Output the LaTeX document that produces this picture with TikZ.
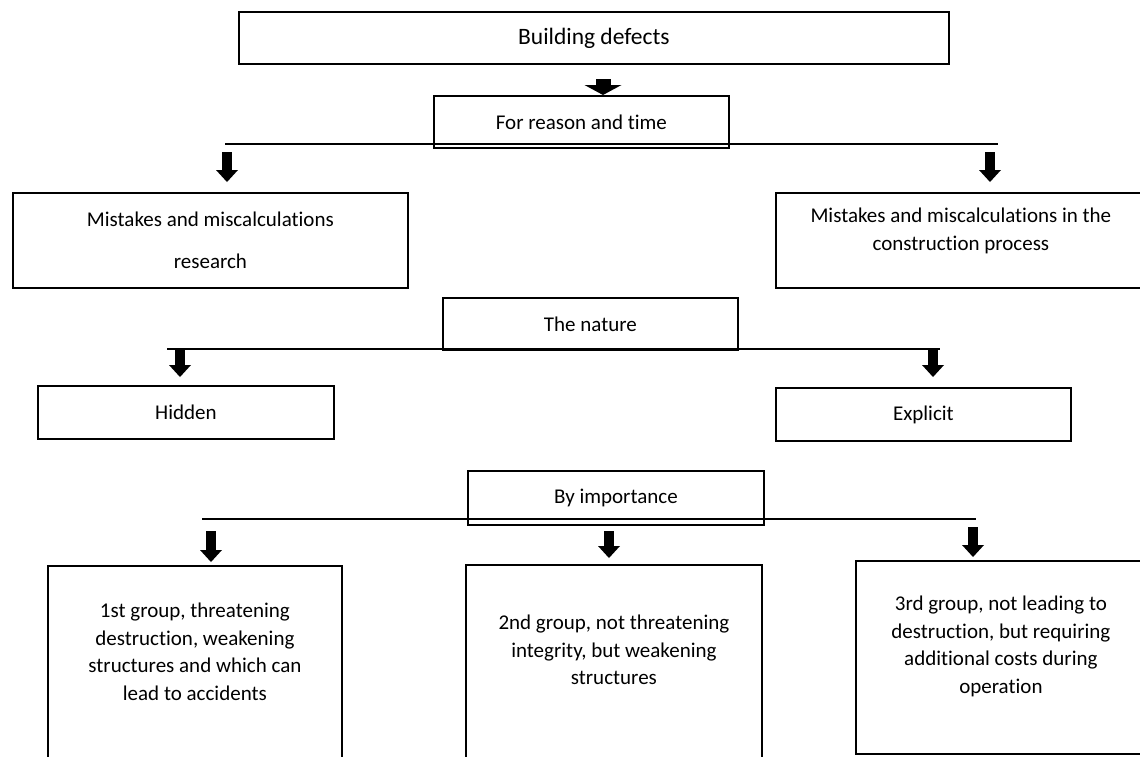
\documentclass[tikz,border=0pt]{standalone}
\usepackage{fontspec}
\setmainfont{Carlito}[Ligatures=NoCommon]
\usetikzlibrary{arrows.meta, positioning}
\tikzstyle{box} = [draw, line width=1.8pt, rectangle, inner sep=0pt, anchor=north west, align=center, font=\fontsize{21}{27.5}\selectfont]
\tikzstyle{boxtext} = [inner sep=0pt, align=center, font=\fontsize{21}{27.5}\selectfont]
\tikzstyle{bar} = [line width=2pt]
\tikzstyle{fatarrow} = [line width=10pt, -{Triangle[width=22pt, length=12pt, line width=0pt]}]
\tikzstyle{bigarrow} = [line width=15pt, -{Triangle[width=37pt, length=10pt, line width=0pt]}]

\begin{document}
\begin{tikzpicture}[x=1pt, y=-1pt]
    \useasboundingbox (0,0) rectangle (1140,756);
    \node[box, minimum width=710pt, minimum height=52pt, font=\fontsize{23.5}{28}\selectfont] (defects) at (238,11) {Building defects};
    \node[box, minimum width=295pt, minimum height=52pt] (reason) at (433,95) {For reason and time};
    \node[box, minimum width=395pt, minimum height=95pt, font=\fontsize{21}{42}\selectfont] (research) at (12,192) {Mistakes and miscalculations\\research};
    \node[box, minimum width=370pt, minimum height=95pt] (process) at (775,192) {};
    \node[boxtext, below=16pt of process.north] (processtext) {Mistakes and miscalculations in the\\construction process};
    \node[box, minimum width=295pt, minimum height=52pt] (nature) at (442,297) {The nature};
    \node[box, minimum width=296pt, minimum height=53pt] (hidden) at (37,385) {Hidden};
    \node[box, minimum width=295pt, minimum height=53pt] (explicit) at (775,387) {Explicit};
    \node[box, minimum width=296pt, minimum height=54pt] (importance) at (467,470) {By importance};
    \node[box, minimum width=294pt, minimum height=220pt] (first) at (47,565) {};
    \node[boxtext, below=38pt of first.north] (firsttext) {1st group, threatening\\destruction, weakening\\structures and which can\\lead to accidents};
    \node[box, minimum width=296pt, minimum height=220pt] (second) at (465,564) {};
    \node[boxtext, below=51pt of second.north] (secondtext) {2nd group, not threatening\\integrity, but weakening\\structures};
    \node[box, minimum width=290pt, minimum height=193pt] (third) at (855,560) {};
    \node[boxtext, below=36pt of third.north] (thirdtext) {3rd group, not leading to\\destruction, but requiring\\additional costs during\\operation};

    \coordinate (down) at (603,79);
    \draw[bigarrow] (down) -- (down |- reason.north);

    \coordinate (reasonL) at (225,144);
    \coordinate (reasonR) at (998,144);
    \draw[bar] (reasonL) -- (reasonR);
    \coordinate (toresearch) at (227,152);
    \coordinate (toprocess) at (990,152);
    \draw[fatarrow, shorten >=10pt] (toresearch) -- (toresearch |- research.north);
    \draw[fatarrow, shorten >=10pt] (toprocess) -- (toprocess |- process.north);

    \coordinate (natureL) at (167,349);
    \coordinate (natureR) at (940,349);
    \draw[bar] (natureL) -- (natureR);
    \coordinate (tohidden) at (180,349);
    \coordinate (toexplicit) at (933,349);
    \draw[fatarrow, shorten >=8pt] (tohidden) -- (tohidden |- hidden.north);
    \draw[fatarrow, shorten >=10pt] (toexplicit) -- (toexplicit |- explicit.north);

    \coordinate (importanceL) at (202,519);
    \coordinate (importanceR) at (976,519);
    \draw[bar] (importanceL) -- (importanceR);
    \coordinate (tofirst) at (211,531);
    \coordinate (tosecond) at (609,531);
    \coordinate (tothird) at (973,527);
    \draw[fatarrow, shorten >=3pt] (tofirst) -- (tofirst |- first.north);
    \draw[fatarrow, shorten >=6pt] (tosecond) -- (tosecond |- second.north);
    \draw[fatarrow, shorten >=3pt] (tothird) -- (tothird |- third.north);
\end{tikzpicture}
\end{document}
